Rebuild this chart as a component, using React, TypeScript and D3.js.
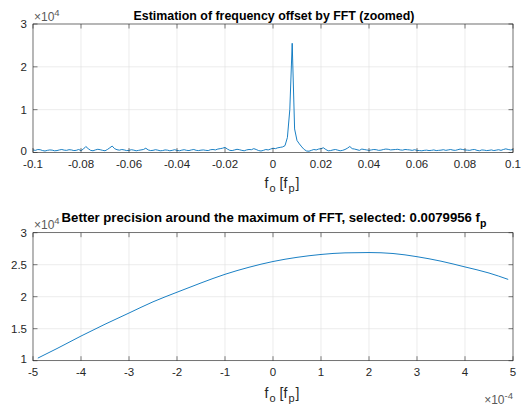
import React from "react";
import * as d3 from "d3";

const fftStep = 0.001;
const fftStart = -0.1;
const fftMag = [
  600,500,700,650,450,350,500,600,550,400,
  450,600,700,550,500,650,600,450,500,700,
  450,800,1400,900,500,400,600,750,650,500,
  400,700,1100,1500,900,650,550,700,600,450,
  500,650,550,400,500,600,700,1000,600,450,
  500,650,550,400,450,600,550,400,500,650,
  500,400,550,650,500,450,600,700,500,450,
  550,600,500,450,650,700,600,800,900,1000,
  1200,800,500,450,600,750,650,500,400,600,
  700,650,900,700,450,350,500,700,600,800,
  1000,900,1100,1200,1300,1600,3500,10000,25500,5500,
  2800,2000,1300,700,350,300,500,700,600,800,
  900,1100,700,400,450,600,700,550,400,500,
  700,1000,1400,900,800,650,500,800,700,600,
  500,600,700,650,500,550,700,800,750,600,
  650,700,750,600,550,700,650,600,500,650,
  500,450,400,500,550,450,500,600,450,500,
  550,650,500,600,700,550,500,650,800,700,
  600,550,500,650,700,500,400,600,550,450,
  500,600,450,550,650,500,700,850,700,600,700,
];

const fineOffset = [-4.9,-4.5,-4,-3.5,-3,-2.5,-2,-1.5,-1,-0.5,0,0.5,1,1.5,2,2.5,3,3.5,4,4.5,4.9];
const fineMag = [10400,11900,13850,15700,17450,19200,20700,22150,23500,24600,25500,26150,26600,26850,26900,26750,26250,25550,24650,23700,22700];

const topXTicks = [-0.1,-0.08,-0.06,-0.04,-0.02,0,0.02,0.04,0.06,0.08,0.1];
const topYTicks = [0,1,2,3];
const botXTicks = [-5,-4,-3,-2,-1,0,1,2,3,4,5];
const botYTicks = [1,1.5,2,2.5,3];

const FONT = "'Liberation Sans', Arial, Helvetica, sans-serif";
const AX = "#262626";
const GRID = "#dfdfdf";
const LINE = "#0072BD";

function fmt(v: number) {
  return String(+v.toFixed(6));
}

function Axes({ x, y, xTicks, yTicks, top, bottom, left, right, path }: any) {
  const tl = 4.5;
  return (
    <g>
      <rect x={left} y={top} width={right - left} height={bottom - top} fill="#fff" />
      {xTicks.map((t: number, i: number) => (
        <line key={"gx" + i} x1={x(t)} x2={x(t)} y1={top} y2={bottom} stroke={GRID} strokeWidth={0.6} />
      ))}
      {yTicks.map((t: number, i: number) => (
        <line key={"gy" + i} x1={left} x2={right} y1={y(t)} y2={y(t)} stroke={GRID} strokeWidth={0.6} />
      ))}
      <path d={path} fill="none" stroke={LINE} strokeWidth={0.9} strokeLinejoin="round" />
      <rect x={left} y={top} width={right - left} height={bottom - top} fill="none" stroke={AX} strokeWidth={0.6} />
      {xTicks.map((t: number, i: number) => (
        <g key={"tx" + i}>
          <line x1={x(t)} x2={x(t)} y1={bottom} y2={bottom - tl} stroke={AX} strokeWidth={0.6} />
          <line x1={x(t)} x2={x(t)} y1={top} y2={top + tl} stroke={AX} strokeWidth={0.6} />
          <text x={x(t)} y={bottom + 15} textAnchor="middle" fontSize={11.5} fill={AX} fontFamily={FONT}>{fmt(t)}</text>
        </g>
      ))}
      {yTicks.map((t: number, i: number) => (
        <g key={"ty" + i}>
          <line x1={left} x2={left + tl} y1={y(t)} y2={y(t)} stroke={AX} strokeWidth={0.6} />
          <line x1={right} x2={right - tl} y1={y(t)} y2={y(t)} stroke={AX} strokeWidth={0.6} />
          <text x={left - 6} y={y(t) + (i === 0 ? 2.5 : 4)} textAnchor="end" fontSize={11.5} fill={AX} fontFamily={FONT}>{fmt(t)}</text>
        </g>
      ))}
    </g>
  );
}

function XLabel({ y }: { y: number }) {
  return (
    <text x={282} y={y} textAnchor="middle" fontSize={14} fill={AX}>
      f<tspan dx={1} dy={4} fontSize={11}>o</tspan><tspan dx={4} dy={-4}>[f</tspan><tspan dx={1} dy={4} fontSize={11}>p</tspan><tspan dx={1} dy={-4}>]</tspan>
    </text>
  );
}

export default function App() {
  const left = 33, right = 513;
  const t1 = 24, b1 = 152.5;
  const t2 = 232.7, b2 = 360.7;

  const x1 = d3.scaleLinear().domain([-0.1, 0.1]).range([left, right]);
  const y1 = d3.scaleLinear().domain([0, 3]).range([b1, t1]);
  const x2 = d3.scaleLinear().domain([-5, 5]).range([left, right]);
  const y2 = d3.scaleLinear().domain([1, 3]).range([b2, t2]);

  const topPts = fftMag.map((m, i) => [fftStart + i * fftStep, m / 1e4] as [number, number]);
  const topPath = d3.line<[number, number]>().x(d => x1(d[0])).y(d => y1(d[1]))(topPts) || "";
  const botPts = fineOffset.map((o, i) => [o, fineMag[i] / 1e4] as [number, number]);
  const botPath = d3.line<[number, number]>().x(d => x2(d[0])).y(d => y2(d[1])).curve(d3.curveMonotoneX)(botPts) || "";

  return (
    <svg width={528} height={409} style={{ position: "absolute", left: 0, top: 0, background: "#fff" }} fontFamily={FONT}>
      <rect width={528} height={409} fill="#fff" />
      <Axes x={x1} y={y1} xTicks={topXTicks} yTicks={topYTicks} top={t1} bottom={b1} left={left} right={right} path={topPath} />
      <text x={274} y={19.5} textAnchor="middle" fontSize={12.4} fontWeight="bold" fill="#000">Estimation of frequency offset by FFT (zoomed)</text>
      <text x={34} y={21} fontSize={12} fill="#595959">×10<tspan dy={-5} fontSize={9.5}>4</tspan></text>
      <XLabel y={188} />

      <Axes x={x2} y={y2} xTicks={botXTicks} yTicks={botYTicks} top={t2} bottom={b2} left={left} right={right} path={botPath} />
      <text x={274} y={222} textAnchor="middle" fontSize={13.2} fontWeight="bold" fill="#000">Better precision around the maximum of FFT, selected: 0.0079956 f<tspan dy={5} fontSize={10.5}>p</tspan></text>
      <text x={34} y={229} fontSize={12} fill="#595959">×10<tspan dy={-5} fontSize={9.5}>4</tspan></text>
      <XLabel y={398} />
      <text x={513} y={404} textAnchor="end" fontSize={12} fill="#595959">×10<tspan dy={-5} fontSize={9.5}>-4</tspan></text>
    </svg>
  );
}
